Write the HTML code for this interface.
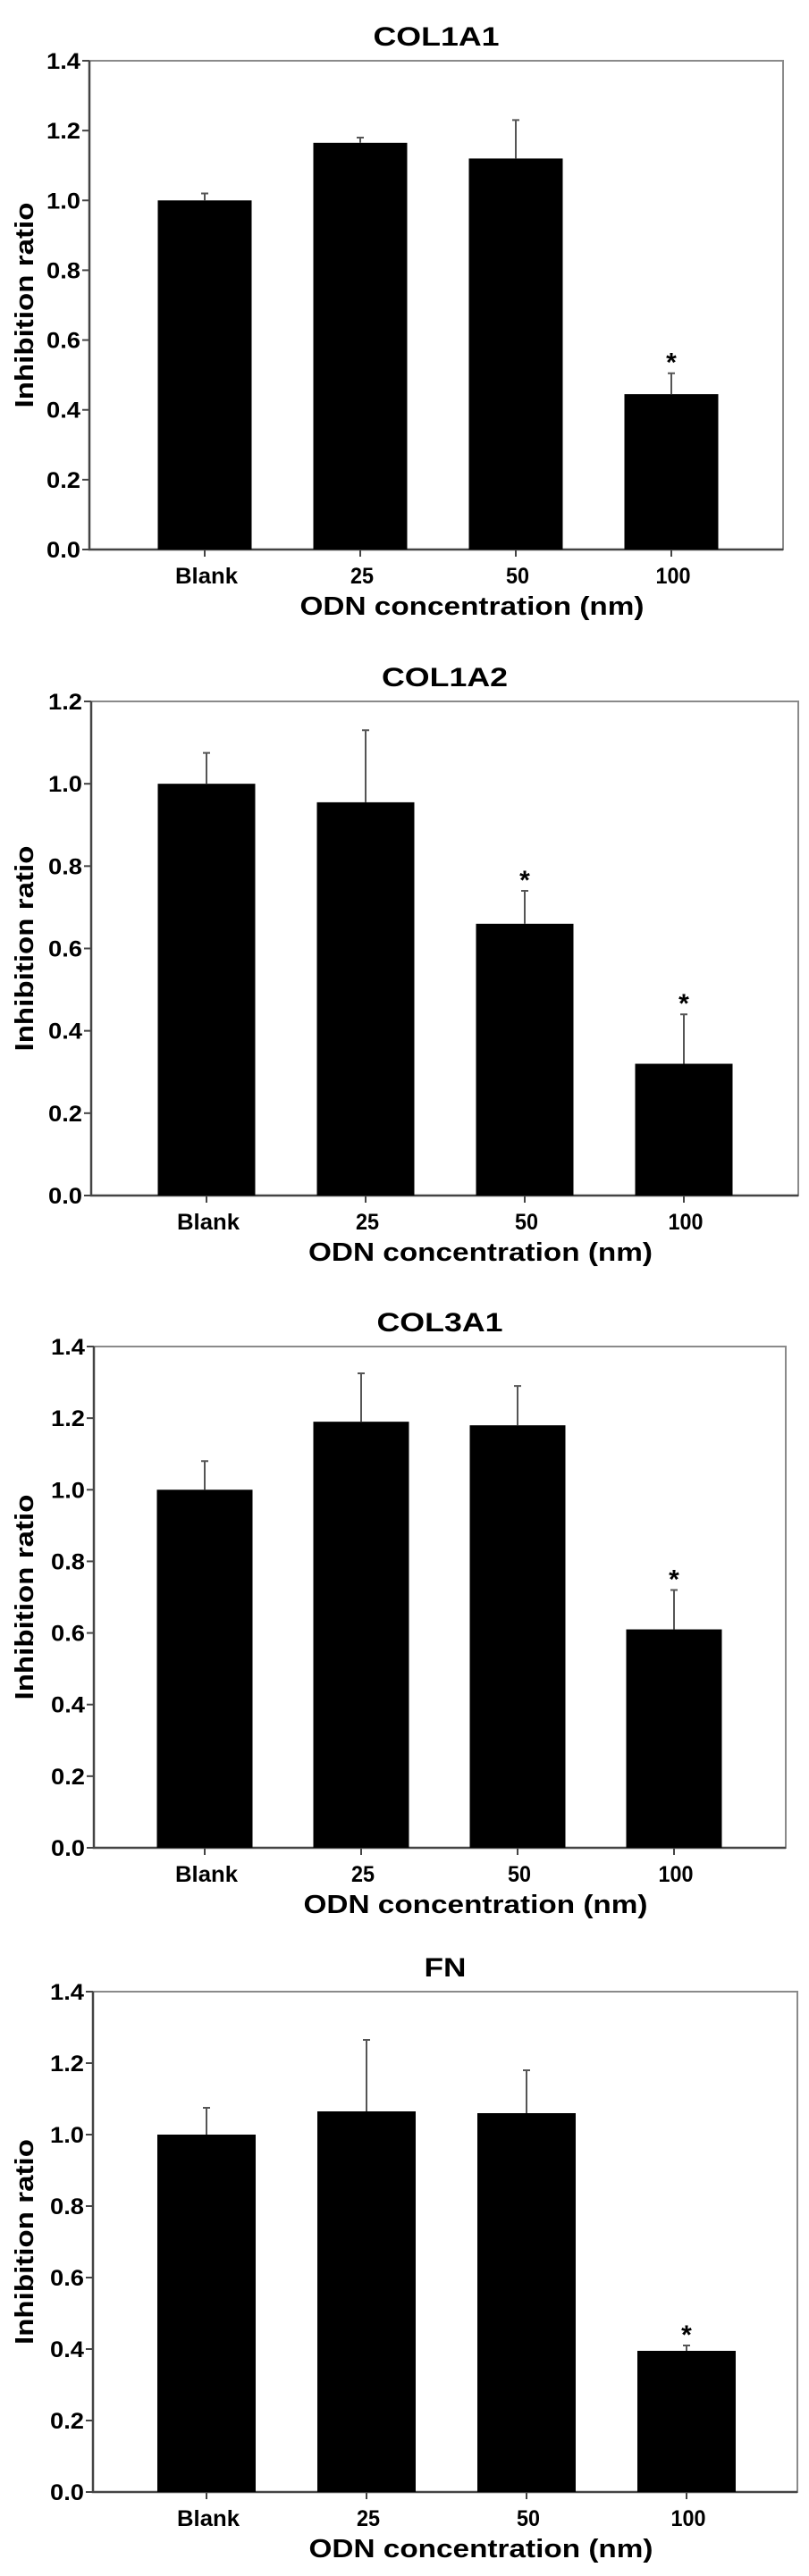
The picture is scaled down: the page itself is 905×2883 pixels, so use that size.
<!DOCTYPE html>
<html><head><meta charset="utf-8">
<style>
html,body{margin:0;padding:0;background:#fff;}
svg{display:block;}
text{font-family:"Liberation Sans",Arial,sans-serif;font-weight:bold;fill:#000;}
</style></head>
<body>
<svg id="fig" width="905" height="2883" viewBox="0 0 905 2883" xmlns="http://www.w3.org/2000/svg"></svg>
<script>
const categories = ["Blank","25","50","100"];
const titles = ["COL1A1","COL1A2","COL3A1","FN"];
const means1 = [1.0, 1.165, 1.12, 0.445];
const errTop1 = [1.02, 1.18, 1.23, 0.505];
const sig1 = [false,false,false,true];
const means2 = [1.0, 0.955, 0.66, 0.32];
const errTop2 = [1.075, 1.13, 0.74, 0.44];
const sig2 = [false,false,true,true];
const means3 = [1.0, 1.19, 1.18, 0.61];
const errTop3 = [1.08, 1.325, 1.29, 0.72];
const sig3 = [false,false,false,true];
const means4 = [1.0, 1.065, 1.06, 0.395];
const errTop4 = [1.075, 1.265, 1.18, 0.41];
const sig4 = [false,false,false,true];
const yTicks14 = ["0.0","0.2","0.4","0.6","0.8","1.0","1.2","1.4"];
const yTicks12 = ["0.0","0.2","0.4","0.6","0.8","1.0","1.2"];

const layouts = [
  {L:100,R:876,T:68,B:615,first:129,step:174,bw:105,ymax:1.4,ticks:yTicks14,means:means1,err:errTop1,sig:sig1},
  {L:102,R:893,T:785,B:1338,first:129,step:178,bw:109,ymax:1.2,ticks:yTicks12,means:means2,err:errTop2,sig:sig2},
  {L:105,R:879,T:1507,B:2068,first:124,step:175,bw:107,ymax:1.4,ticks:yTicks14,means:means3,err:errTop3,sig:sig3},
  {L:104,R:892,T:2229,B:2789,first:127,step:179,bw:110,ymax:1.4,ticks:yTicks14,means:means4,err:errTop4,sig:sig4}
];
const NS="http://www.w3.org/2000/svg";
const svg=document.getElementById('fig');
function mk(tag,attrs,parent){const e=document.createElementNS(NS,tag);for(const k in attrs)e.setAttribute(k,attrs[k]);(parent||svg).appendChild(e);return e;}

layouts.forEach((p,pi)=>{
  const g=mk('g',{});
  
  
  const y=v=>p.B-(v/p.ymax)*(p.B-p.T);
  const xc=i=>p.L+p.first+i*p.step;
  const cx=(p.L+p.R)/2;
  // title
  const t=mk('text',{x:cx,y:p.T-17,'font-size':30,'text-anchor':'middle',textLength:titles[pi].length*23.5,lengthAdjust:'spacingAndGlyphs'},g);
  t.textContent=titles[pi];
  
  
  // frame
  const fr=mk('rect',{x:p.L,y:p.T,width:p.R-p.L,height:p.B-p.T,fill:'none',stroke:'#8a8a8a','stroke-width':2},g);
  
  
  const ax=mk('path',{d:`M${p.L},${p.T}V${p.B}H${p.R}`,fill:'none',stroke:'#444','stroke-width':2.5},g);
  
  
  // y ticks
  p.ticks.forEach((lab,i)=>{
    const v=i*0.2, yy=y(v);
    mk('line',{x1:p.L-8,x2:p.L,y1:yy,y2:yy,stroke:'#444','stroke-width':2},g);
    const tl=mk('text',{x:p.L-10,y:yy+9,'font-size':25,'text-anchor':'end',textLength:38,lengthAdjust:'spacingAndGlyphs'},g);
    tl.textContent=lab;
    
    
  });
  // y title
  const yt=mk('text',{x:0,y:0,'font-size':29,'text-anchor':'middle',transform:`translate(37,${(p.T+p.B)/2}) rotate(-90)`,textLength:230,lengthAdjust:'spacingAndGlyphs'},g);
  yt.textContent='Inhibition ratio';
  
  
  // bars
  categories.forEach((c,i)=>{
    const x=xc(i);
    mk('line',{x1:x,x2:x,y1:p.B,y2:p.B+8,stroke:'#444','stroke-width':2},g);
    const b=mk('rect',{x:x-p.bw/2,y:y(p.means[i]),width:p.bw,height:p.B-y(p.means[i]),fill:'#000'},g);
    
    
    const e=mk('path',{d:`M${x},${y(p.means[i])}V${y(p.err[i])}M${x-4},${y(p.err[i])}H${x+4}`,stroke:'#555','stroke-width':2,fill:'none'},g);
    
    
    if(p.sig[i]){
      const s=mk('text',{x:x,y:y(p.err[i])-2,'font-size':30,'text-anchor':'middle'},g);
      s.textContent='*';
      
      
    }
    const xl=mk('text',{x:x+2,y:p.B+38,'font-size':25,'text-anchor':'middle',textLength:c.length*(c==='Blank'?14:13),lengthAdjust:'spacingAndGlyphs'},g);
    xl.textContent=c;
    
    
  });
  const xt=mk('text',{x:cx+40,y:p.B+73,'font-size':29,'text-anchor':'middle',textLength:385,lengthAdjust:'spacingAndGlyphs'},g);
  xt.textContent='ODN concentration (nm)';
  
  
});
</script>
</body></html>
